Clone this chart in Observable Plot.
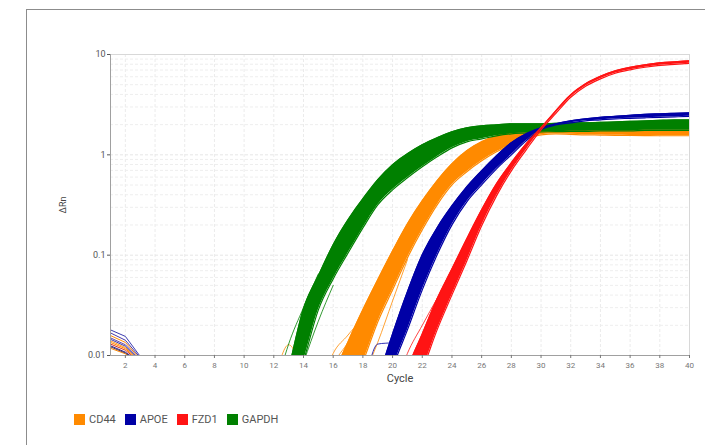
<!DOCTYPE html>
<html>
<head>
<meta charset="utf-8">
<script src="https://cdn.jsdelivr.net/npm/d3@7"></script>
<script src="https://cdn.jsdelivr.net/npm/@observablehq/plot@0.6"></script>
<style>
  html, body { margin: 0; padding: 0; background: #fff; }
  body { width: 705px; height: 445px; position: relative; overflow: hidden; font-family: Roboto, "Liberation Sans", sans-serif; }
  #panel { position: absolute; left: 26px; top: 9px; width: 720px; height: 460px; border-left: 1.5px solid #8c8c8c; border-top: 1.5px solid #8c8c8c; z-index: 2; pointer-events: none; }
  #chart { position: absolute; left: 0; top: 0; z-index: 1; }
  #legend { position: absolute; left: 74px; top: 413px; display: flex; align-items: center; font-size: 11px; color: #555; z-index: 3; }
  #legend .item { display: flex; align-items: center; margin-right: 9px; }
  #legend .sw { width: 11px; height: 11px; margin-right: 4px; }
</style>
</head>
<body>
<div id="panel"></div>
<div id="chart"></div>
<div id="legend"></div>
<script>
// Amplification plot: ΔRn per cycle for four targets, each drawn as the band
// spanned by its replicate wells (lowest and highest ΔRn at every cycle).
const genes = ["CD44", "APOE", "FZD1", "GAPDH"];
const geneColors = ["#ff8a00", "#0000a6", "#ff1414", "#008000"];

const xTicks = [2, 4, 6, 8, 10, 12, 14, 16, 18, 20, 22, 24, 26, 28, 30, 32, 34, 36, 38, 40];
const yTicks = [0.01, 0.1, 1, 10];
const yTickLabels = ["0.01", "0.1", "1", "10"];
const yMinor = [0.02, 0.03, 0.04, 0.05, 0.06, 0.07, 0.08, 0.09,
                0.2, 0.3, 0.4, 0.5, 0.6, 0.7, 0.8, 0.9,
                2, 3, 4, 5, 6, 7, 8, 9];

// CD44, cycles 15–40
const cd44Start = 15;
const cd44High = [0.002, 0.00612, 0.01367, 0.0285, 0.0567, 0.110, 0.205, 0.348, 0.551, 0.813,
                  1.096, 1.348, 1.547, 1.696, 1.775, 1.816, 1.795, 1.775, 1.775, 1.77,
                  1.77, 1.765, 1.765, 1.76, 1.76, 1.76];
const cd44Low  = [0.001, 0.002, 0.004, 0.00863, 0.0216, 0.0451, 0.094, 0.179, 0.317, 0.502,
                  0.677, 0.871, 1.071, 1.258, 1.443, 1.582, 1.619, 1.601, 1.582, 1.575,
                  1.565, 1.56, 1.555, 1.55, 1.55, 1.55];

// APOE, cycles 18–40
const apoeStart = 18;
const apoeHigh = [0.002, 0.00571, 0.0164, 0.0431, 0.1007, 0.187, 0.310, 0.480, 0.693, 0.977,
                  1.317, 1.620, 1.858, 2.04, 2.183, 2.285, 2.365, 2.42, 2.477, 2.535,
                  2.564, 2.593, 2.62];
const apoeLow  = [0.001, 0.002, 0.00735, 0.0180, 0.0451, 0.1007, 0.2005, 0.340, 0.502, 0.725,
                  1.0, 1.379, 1.775, 1.99, 2.085, 2.183, 2.23, 2.285, 2.31, 2.34,
                  2.365, 2.39, 2.42];

// FZD1, cycles 20–40
const fzd1Start = 20;
const fzd1High = [0.002, 0.00718, 0.0164, 0.0367, 0.0730, 0.1454, 0.283, 0.514, 0.832, 1.287,
                  1.858, 2.746, 3.963, 5.10, 6.06, 6.88, 7.46, 7.90, 8.27, 8.46, 8.65];
const fzd1Low  = [0.001, 0.00345, 0.00718, 0.0180, 0.0402, 0.0877, 0.196, 0.390, 0.693, 1.122,
                  1.775, 2.593, 3.744, 4.82, 5.72, 6.50, 7.04, 7.46, 7.80, 7.99, 8.17];

// GAPDH, cycles 12–40
const gapdhStart = 12;
const gapdhHigh = [0.002, 0.00735, 0.0292, 0.0622, 0.127, 0.225, 0.364, 0.563, 0.795, 1.023,
                   1.258, 1.477, 1.696, 1.858, 1.946, 1.99, 2.04, 2.04, 2.04, 2.06,
                   2.085, 2.085, 2.11, 2.13, 2.16, 2.18, 2.21, 2.23, 2.23];
const gapdhLow  = [0.001, 0.003, 0.0088, 0.0285, 0.058, 0.105, 0.187, 0.317, 0.448, 0.590,
                   0.759, 0.955, 1.174, 1.348, 1.443, 1.547, 1.619, 1.656, 1.696, 1.70,
                   1.715, 1.715, 1.735, 1.735, 1.735, 1.755, 1.755, 1.755, 1.755];

// Single wells that stray from their band: [target, first cycle, values]
const strayWells = [
  ["CD44", 15, [0.004, 0.0105, 0.016, 0.025, 0.055]],
  ["CD44", 15, [0.003, 0.008, 0.0135, 0.024, 0.052]],
  ["CD44", 17, [0.003, 0.006, 0.0135, 0.035, 0.09]],
  ["CD44", 12, [0.005, 0.0128, 0.006]],
  ["GAPDH", 12, [0.004, 0.013, 0.03, 0.065]],
  ["GAPDH", 13, [0.003, 0.0085, 0.022, 0.05]],
  ["APOE", 18, [0.004, 0.013, 0.0135, 0.035]],
  ["FZD1", 20, [0.004, 0.0105, 0.02, 0.037]]
];

// Baseline noise over the first cycles
const noiseCycles = [1, 2, 3];
const noiseColors = ["#3b3bb0", "#4a3aa8", "#ff8a00", "#6a4aa0", "#ff9a20", "#e03020", "#2a2a90", "#ff8a00", "#553355", "#ff8a00", "#3b3bb0"];
const noiseValues = [
  [0.018, 0.0155, 0.0098],
  [0.0168, 0.0142, 0.0095],
  [0.0158, 0.0135, 0.0092],
  [0.015, 0.0128, 0.0090],
  [0.014, 0.012, 0.0088],
  [0.013, 0.0113, 0.0086],
  [0.0125, 0.0108, 0.0085],
  [0.0118, 0.0104, 0.0083],
  [0.0122, 0.0106, 0.0084],
  [0.0135, 0.0117, 0.0087],
  [0.0145, 0.0124, 0.0089]
];

const bandSeries = [
  ["CD44", cd44Start, cd44Low, cd44High],
  ["GAPDH", gapdhStart, gapdhLow, gapdhHigh],
  ["APOE", apoeStart, apoeLow, apoeHigh],
  ["FZD1", fzd1Start, fzd1Low, fzd1High]
];
const colorOf = g => geneColors[genes.indexOf(g)];

const bandMarks = [];
for (const [gene, start, low, high] of bandSeries) {
  const rows = low.map((lo, i) => ({cycle: start + i, lo, hi: high[i]}));
  const c = colorOf(gene);
  bandMarks.push(
    Plot.areaY(rows, {x: "cycle", y1: "lo", y2: "hi", fill: c, curve: "monotone-x", clip: true}),
    Plot.line(rows, {x: "cycle", y: "lo", stroke: c, strokeWidth: 1.2, curve: "monotone-x", clip: true}),
    Plot.line(rows, {x: "cycle", y: "hi", stroke: c, strokeWidth: 1.2, curve: "monotone-x", clip: true})
  );
}

const strayMarks = strayWells.map(([gene, start, values]) =>
  Plot.line(values.map((v, i) => ({cycle: start + i, v})),
    {x: "cycle", y: "v", stroke: colorOf(gene), strokeWidth: 0.8, curve: "monotone-x", clip: true}));

const noiseMarks = noiseValues.map((values, k) =>
  Plot.line(values.map((v, i) => ({cycle: noiseCycles[i], v})),
    {x: "cycle", y: "v", stroke: noiseColors[k], strokeWidth: 1, clip: true}));

const chart = Plot.plot({
  width: 705,
  height: 395,
  marginLeft: 110,
  marginRight: 16,
  marginTop: 54,
  marginBottom: 40,
  style: {fontFamily: "Roboto, 'Liberation Sans', sans-serif", background: "transparent", color: "#666"},
  x: {domain: [1, 40]},
  y: {type: "log", domain: [0.01, 10]},
  marks: [
    Plot.gridX(xTicks, {stroke: "#ebebeb", strokeOpacity: 1, strokeDasharray: "3,2"}),
    Plot.gridY(yMinor, {stroke: "#eeeeee", strokeOpacity: 1, strokeDasharray: "3,2"}),
    Plot.gridY([0.1, 1], {stroke: "#e6e6e6", strokeOpacity: 1, strokeDasharray: "3,2"}),
    Plot.frame({stroke: "#d8d8d8"}),
    ...noiseMarks,
    ...strayMarks,
    ...bandMarks,
    Plot.ruleX([1], {stroke: "#a0a0a0"}),
    Plot.ruleY([0.01], {stroke: "#a0a0a0"}),
    Plot.axisX(xTicks, {tickSize: 3, tickPadding: 4, fontSize: 8, color: "#777", label: null}),
    Plot.axisY(yTicks, {tickSize: 3, tickPadding: 2, fontSize: 9, color: "#555", label: null,
      tickFormat: d => yTickLabels[yTicks.indexOf(d)]}),
    Plot.text(["Cycle"], {frameAnchor: "bottom", lineAnchor: "middle", dy: 23, fontSize: 11, fill: "#444"}),
    Plot.text(["ΔRn"], {frameAnchor: "left", textAnchor: "middle", lineAnchor: "middle", dx: -47, rotate: -90, fontSize: 9, fill: "#444"})
  ]
});
document.getElementById("chart").append(chart);

// Legend
const legend = d3.select("#legend");
genes.forEach((g, i) => {
  const item = legend.append("div").attr("class", "item");
  item.append("div").attr("class", "sw").style("background", geneColors[i]);
  item.append("span").text(g);
});
</script>
</body>
</html>
